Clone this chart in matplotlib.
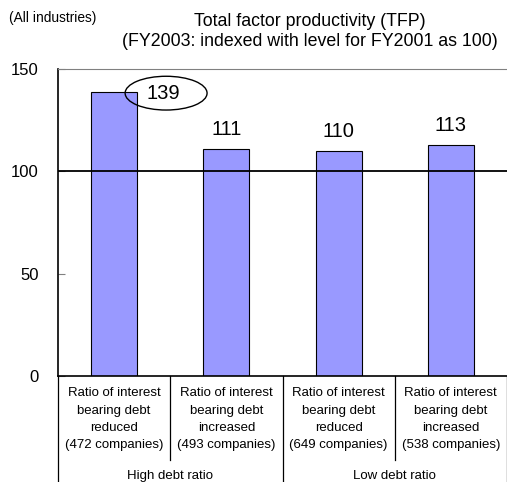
import matplotlib.pyplot as plt
from matplotlib.patches import Ellipse

plt.rcParams['font.family'] = ['Liberation Sans', 'DejaVu Sans']

groups = ['High debt ratio', 'Low debt ratio']
categories = [
    'Ratio of interest\nbearing debt\nreduced\n(472 companies)',
    'Ratio of interest\nbearing debt\nincreased\n(493 companies)',
    'Ratio of interest\nbearing debt\nreduced\n(649 companies)',
    'Ratio of interest\nbearing debt\nincreased\n(538 companies)',
]
tfp = [139, 111, 110, 113]
baseline = 100

W, H = 507, 482
fig = plt.figure(figsize=(W / 100, H / 100), dpi=100)
ax = fig.add_axes([58 / W, 106 / H, 449 / W, 307 / H])

x = list(range(len(tfp)))
ax.bar(x, tfp, width=0.41, color='#9999ff', edgecolor='black', linewidth=0.8, zorder=2)
ax.axhline(baseline, color='black', linewidth=1.3, zorder=3)

# value labels; the first one sits beside its bar inside an ellipse
for i, v in enumerate(tfp):
    if i == 0:
        ax.text(i + 0.44, v - 1.2, str(v), ha='center', va='center', fontsize=14.5)
        ax.add_patch(Ellipse((i + 0.463, v - 0.8), 0.73, 16.5, fill=False,
                             edgecolor='black', linewidth=1, zorder=4))
    else:
        ax.annotate(str(v), (i, v), xytext=(0, 7), textcoords='offset points',
                    ha='center', va='bottom', fontsize=14.5)

ax.set_xlim(-0.5, 3.5)
ax.set_ylim(0, 150)
ax.set_yticks([0, 50, 100, 150])
ax.tick_params(axis='y', direction='in', length=5, color='#808080', labelsize=12, pad=14)
ax.set_xticks(x)
ax.set_xticklabels(categories, fontsize=9.5, linespacing=1.6)
ax.tick_params(axis='x', length=0, pad=8)

ax.spines['right'].set_visible(False)
ax.spines['top'].set_color('#808080')
ax.spines['left'].set_linewidth(1.2)
ax.spines['bottom'].set_linewidth(1.2)

# separators under the axis between categories and groups
trans = ax.get_xaxis_transform()
for xs in [0.5, 2.5]:
    ax.plot([xs, xs], [0, -0.272], transform=trans, color='black', linewidth=0.9, clip_on=False)
for xs in [-0.5, 1.5, 3.5]:
    ax.plot([xs, xs], [0, -0.36], transform=trans, color='black', linewidth=0.9, clip_on=False)
for gi, g in enumerate(groups):
    ax.text(0.5 + 2 * gi, -0.325, g, transform=trans, ha='center', va='center', fontsize=9.5)

fig.text(9 / W, 1 - 18 / H, '(All industries)', fontsize=9.9, va='center', ha='left')
fig.text(310 / W, 1 - 22 / H, 'Total factor productivity (TFP)', fontsize=12.8, va='center', ha='center')
fig.text(310 / W, 1 - 42 / H, '(FY2003: indexed with level for FY2001 as 100)', fontsize=12.8,
         va='center', ha='center')

fig.savefig('out.png', dpi=100)
